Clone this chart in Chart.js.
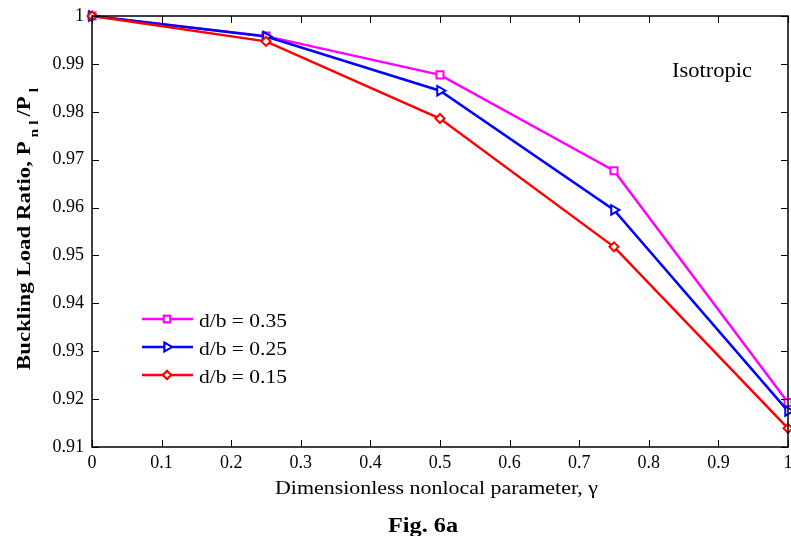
<!DOCTYPE html>
<html>
<head>
<meta charset="utf-8">
<script src="https://cdn.jsdelivr.net/npm/chart.js@4.4.1/dist/chart.umd.min.js"></script>
<style>
  html, body { margin: 0; padding: 0; background: #fff; }
  #wrap { width: 791px; height: 536px; }
</style>
</head>
<body>
<div id="wrap"><canvas id="c" width="791" height="536"></canvas></div>
<script>
// Nonlocal parameter gamma
const gammaValues = [0, 0.25, 0.5, 0.75, 1];
// Buckling load ratio P_nl / P_l for each d/b
const ratio035 = [1.0, 0.9958, 0.9877, 0.9677, 0.9193];
const ratio025 = [1.0, 0.9957, 0.9844, 0.9595, 0.9175];
const ratio015 = [1.0, 0.9947, 0.9786, 0.9518, 0.9139];
const seriesLabels = ['d/b = 0.35', 'd/b = 0.25', 'd/b = 0.15'];
const xTicks = [0, 0.1, 0.2, 0.3, 0.4, 0.5, 0.6, 0.7, 0.8, 0.9, 1];
const yTicks = [0.91, 0.92, 0.93, 0.94, 0.95, 0.96, 0.97, 0.98, 0.99, 1];

const SERIF = '"Liberation Serif", "Times New Roman", serif';

function pts(vals) { return gammaValues.map((g, i) => ({ x: g, y: vals[i] })); }

const datasets = [
  { label: seriesLabels[0], data: pts(ratio035), borderColor: '#ff00ff', pointStyle: 'rect', pointRadius: 5, pointRotation: 0, order: 3 },
  { label: seriesLabels[1], data: pts(ratio025), borderColor: '#0000ff', pointStyle: 'triangle', pointRadius: 5.5, pointRotation: 90, order: 2 },
  { label: seriesLabels[2], data: pts(ratio015), borderColor: '#ff0000', pointStyle: 'rectRot', pointRadius: 4.5, pointRotation: 0, order: 1 }
].map(d => Object.assign(d, {
  borderWidth: 2.5,
  pointBorderWidth: 2,
  pointBackgroundColor: '#ffffff',
  pointBorderColor: d.borderColor,
  tension: 0,
  fill: false,
  clip: 8
}));

// Draw text squeezed/stretched horizontally to a given width
function fitText(ctx, text, x, y, font, width, align) {
  ctx.save();
  ctx.font = font;
  ctx.textAlign = align || 'left';
  ctx.textBaseline = 'alphabetic';
  const w = ctx.measureText(text).width;
  ctx.translate(x, y);
  ctx.scale(width / w, 1);
  ctx.fillText(text, 0, 0);
  ctx.restore();
}

// Frame, inward ticks, x tick labels, legend and annotation text
const decorations = {
  id: 'decorations',
  afterDraw(chart) {
    const ctx = chart.ctx;
    const a = chart.chartArea;
    const xs = chart.scales.x, ys = chart.scales.y;
    ctx.save();
    ctx.strokeStyle = '#000';
    ctx.lineWidth = 1.5;
    ctx.strokeRect(a.left, a.top, a.right - a.left, a.bottom - a.top);
    ctx.lineWidth = 1;
    const tl = 7;
    ctx.beginPath();
    xTicks.forEach(v => {
      const px = Math.round(xs.getPixelForValue(v)) + 0.5;
      ctx.moveTo(px, a.bottom); ctx.lineTo(px, a.bottom - tl);
      ctx.moveTo(px, a.top); ctx.lineTo(px, a.top + tl);
    });
    yTicks.forEach(v => {
      const py = Math.round(ys.getPixelForValue(v)) + 0.5;
      ctx.moveTo(a.left, py); ctx.lineTo(a.left + tl, py);
      ctx.moveTo(a.right, py); ctx.lineTo(a.right - tl, py);
    });
    ctx.stroke();

    // X tick labels
    ctx.fillStyle = '#000';
    ctx.font = '18px ' + SERIF;
    ctx.textAlign = 'center';
    ctx.textBaseline = 'top';
    xTicks.forEach(v => {
      ctx.fillText(String(v), xs.getPixelForValue(v), a.bottom + 7);
    });

    // Legend
    chart.data.datasets.forEach((d, i) => {
      const y = 319 + i * 28;
      ctx.strokeStyle = d.borderColor;
      ctx.lineWidth = 2.5;
      ctx.beginPath(); ctx.moveTo(142, y); ctx.lineTo(193, y); ctx.stroke();
      ctx.lineWidth = 2;
      Chart.helpers.drawPoint(ctx, {
        pointStyle: d.pointStyle, radius: d.pointRadius - 0.5, rotation: d.pointRotation, borderWidth: 2
      }, 167, y);
      ctx.fillStyle = '#fff';
      ctx.fill();
      ctx.stroke();
      ctx.fillStyle = '#000';
      fitText(ctx, d.label, 199, y + 8, '19px ' + SERIF, 88);
    });

    // Label inside the plot
    fitText(ctx, 'Isotropic', 672, 77, '21px ' + SERIF, 80);

    // X axis title
    fitText(ctx, 'Dimensionless nonlocal parameter, \u03b3', 275, 494, '18px ' + SERIF, 323);

    // Caption
    fitText(ctx, 'Fig. 6a', 388, 532, 'bold 20px ' + SERIF, 70);

    // Y axis title with subscripts
    const parts = [
      { t: 'Buckling Load Ratio, P', sub: false },
      { t: ' n l ', sub: true },
      { t: '/P', sub: false },
      { t: ' l', sub: true }
    ];
    const big = 'bold 19px ' + SERIF, small = 'bold 13px ' + SERIF;
    let total = 0;
    parts.forEach(p => { ctx.font = p.sub ? small : big; p.w = ctx.measureText(p.t).width; total += p.w; });
    ctx.translate(30, 370);
    ctx.rotate(-Math.PI / 2);
    ctx.scale(282 / total, 1);
    ctx.textAlign = 'left';
    ctx.textBaseline = 'alphabetic';
    let x = 0;
    parts.forEach(p => {
      ctx.font = p.sub ? small : big;
      ctx.fillText(p.t, x, p.sub ? 8 : 0);
      x += p.w;
    });
    ctx.restore();
  }
};

new Chart(document.getElementById('c'), {
  type: 'line',
  data: { datasets },
  options: {
    responsive: false,
    animation: false,
    layout: { autoPadding: false, padding: { top: 16, right: 3, left: 0, bottom: 0 } },
    plugins: { legend: { display: false }, tooltip: { enabled: false } },
    scales: {
      x: {
        type: 'linear', min: 0, max: 1,
        afterBuildTicks(s) { s.ticks = xTicks.map(v => ({ value: v })); },
        afterFit(s) { s.height = 89; s.paddingLeft = 0; s.paddingRight = 0; },
        grid: { display: false, drawTicks: false },
        border: { display: false },
        ticks: { display: false }
      },
      y: {
        type: 'linear', min: 0.91, max: 1,
        afterBuildTicks(s) { s.ticks = yTicks.map(v => ({ value: v })); },
        afterFit(s) { s.width = 92; s.paddingTop = 0; s.paddingBottom = 0; },
        grid: { display: false, drawTicks: false },
        border: { display: false },
        ticks: {
          color: '#000', padding: 8,
          font: { family: SERIF, size: 18 },
          callback: v => String(+v.toFixed(2))
        }
      }
    }
  },
  plugins: [decorations]
});
</script>
</body>
</html>
